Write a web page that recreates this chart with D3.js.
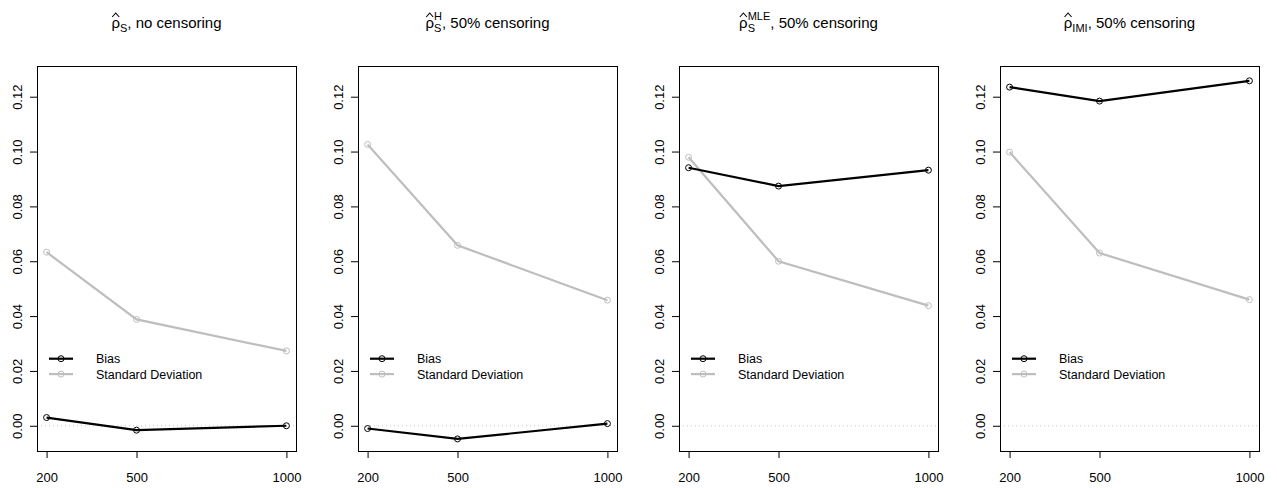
<!DOCTYPE html>
<html>
<head>
<meta charset="utf-8">
<script src="https://cdn.jsdelivr.net/npm/d3@7"></script>
<style>
  body { margin: 0; background: #fff; }
  svg { font-family: "Liberation Sans", Arial, sans-serif; }
</style>
</head>
<body>
<div id="SVG_CONTAINER"></div>
<script>
// sample sizes on the x axis
const sampleSizes = [200, 500, 1000];
const yTicks = [0.00, 0.02, 0.04, 0.06, 0.08, 0.10, 0.12];

// panel titles: estimator superscript + subscript
const titleSub = ["S", "S", "S", "IMI"];
const titleSup = ["", "H", "MLE", ""];
const titleRest = [", no censoring", ", 50% censoring", ", 50% censoring", ", 50% censoring"];

// values, one array per panel
const biasP1 = [0.0030, -0.0016, 0.0000];
const sdP1   = [0.0633, 0.0388, 0.0273];
const biasP2 = [-0.0010, -0.0048, 0.0008];
const sdP2   = [0.1026, 0.0658, 0.0458];
const biasP3 = [0.0941, 0.0874, 0.0932];
const sdP3   = [0.0979, 0.0600, 0.0438];
const biasP4 = [0.1235, 0.1184, 0.1258];
const sdP4   = [0.0998, 0.0630, 0.0460];

const biasAll = [biasP1, biasP2, biasP3, biasP4];
const sdAll = [sdP1, sdP2, sdP3, sdP4];

const legendLabels = ["Bias", "Standard Deviation"];
const seriesColors = ["#000000", "#bebebe"];

const W = 1277, H = 488;
const BOX = {left: 37, step: 321, width: 259, top: 66, bottom: 451};

const svg = d3.select("#SVG_CONTAINER").append("svg")
    .attr("width", W).attr("height", H);

const y = d3.scaleLinear().domain([-0.0092, 0.1312]).range([BOX.bottom, BOX.top]);

for (let p = 0; p < 4; p++) {
    const x0 = BOX.left + p * BOX.step;
    const x = d3.scaleLinear().domain([168, 1032]).range([x0, x0 + BOX.width]);
    const g = svg.append("g");

    // zero reference line
    g.append("line")
        .attr("x1", x0).attr("x2", x0 + BOX.width)
        .attr("y1", y(0)).attr("y2", y(0))
        .attr("stroke", "#c8c8c8").attr("stroke-width", 1)
        .attr("stroke-dasharray", "1,3");

    // axes
    const yAxis = g.append("g")
        .attr("transform", "translate(" + x0 + ",0)")
        .call(d3.axisLeft(y).tickValues(yTicks).tickSize(7).tickFormat(d3.format(".2f")));
    yAxis.select(".domain").remove();
    yAxis.selectAll(".tick line").attr("stroke", "#000");
    yAxis.selectAll(".tick text")
        .attr("transform", "rotate(-90)")
        .attr("x", 0).attr("y", -20)
        .attr("dy", "0.35em")
        .attr("text-anchor", "middle")
        .attr("font-size", "13px")
        .attr("fill", "#000")
        .attr("font-family", "Liberation Sans, Arial, sans-serif");

    const xAxis = g.append("g")
        .attr("transform", "translate(0," + BOX.bottom + ")")
        .call(d3.axisBottom(x).tickValues(sampleSizes).tickSize(7).tickFormat(d3.format("d")));
    xAxis.select(".domain").remove();
    xAxis.selectAll(".tick line").attr("stroke", "#000");
    xAxis.selectAll(".tick text")
        .attr("y", 22).attr("dy", "0.71em")
        .attr("font-size", "13px")
        .attr("fill", "#000")
        .attr("font-family", "Liberation Sans, Arial, sans-serif");

    // plot box
    g.append("rect")
        .attr("x", x0 + 0.5).attr("y", BOX.top + 0.5)
        .attr("width", BOX.width).attr("height", BOX.bottom - BOX.top)
        .attr("fill", "none").attr("stroke", "#000").attr("stroke-width", 1);

    // series
    const series = [biasAll[p], sdAll[p]];
    const line = d3.line().x((d, i) => x(sampleSizes[i])).y(d => y(d));
    // draw sd first so bias sits on top
    [1, 0].forEach(s => {
        g.append("path")
            .attr("d", line(series[s]))
            .attr("fill", "none")
            .attr("stroke", seriesColors[s])
            .attr("stroke-width", 2.2);
        g.selectAll(null).data(series[s]).enter().append("circle")
            .attr("cx", (d, i) => x(sampleSizes[i]))
            .attr("cy", d => y(d))
            .attr("r", 3)
            .attr("fill", "none")
            .attr("stroke", seriesColors[s])
            .attr("stroke-width", 1);
    });

    // legend
    for (let s = 0; s < 2; s++) {
        const ly = 358.7 + s * 15.4;
        g.append("line")
            .attr("x1", x0 + 12).attr("x2", x0 + 36)
            .attr("y1", ly).attr("y2", ly)
            .attr("stroke", seriesColors[s]).attr("stroke-width", 2.2);
        g.append("circle")
            .attr("cx", x0 + 24).attr("cy", ly).attr("r", 3)
            .attr("fill", "none").attr("stroke", seriesColors[s]).attr("stroke-width", 1);
        g.append("text")
            .attr("x", x0 + 59).attr("y", ly + 4.5)
            .attr("font-size", "12.5px")
            .text(legendLabels[s]);
    }

    // title
    const cx = x0 + BOX.width / 2;
    const t = g.append("text")
        .attr("y", 28)
        .attr("font-size", "15px")
        .attr("fill", "#000");
    const rho = t.append("tspan").text("ρ");
    t.append("tspan").attr("font-size", "11px").attr("dy", 4).text(titleSub[p]);
    if (titleSup[p]) {
        t.append("tspan").attr("font-size", "11px").attr("dy", -12)
            .attr("dx", -(titleSub[p].length * 7.3)).text(titleSup[p]);
        t.append("tspan").attr("dy", 8).text(titleRest[p]);
    } else {
        t.append("tspan").attr("dy", -4).text(titleRest[p]);
    }
    const bb = t.node().getBBox();
    const tx = cx - bb.width / 2;
    t.attr("x", tx);
    // hat over rho, drawn as a small chevron
    const hx = tx + rho.node().getComputedTextLength() / 2;
    g.append("path")
        .attr("d", "M" + (hx - 3.5) + ",17 L" + hx + ",13 L" + (hx + 3.5) + ",17")
        .attr("fill", "none").attr("stroke", "#000").attr("stroke-width", 1.1);
}
</script>
</body>
</html>
